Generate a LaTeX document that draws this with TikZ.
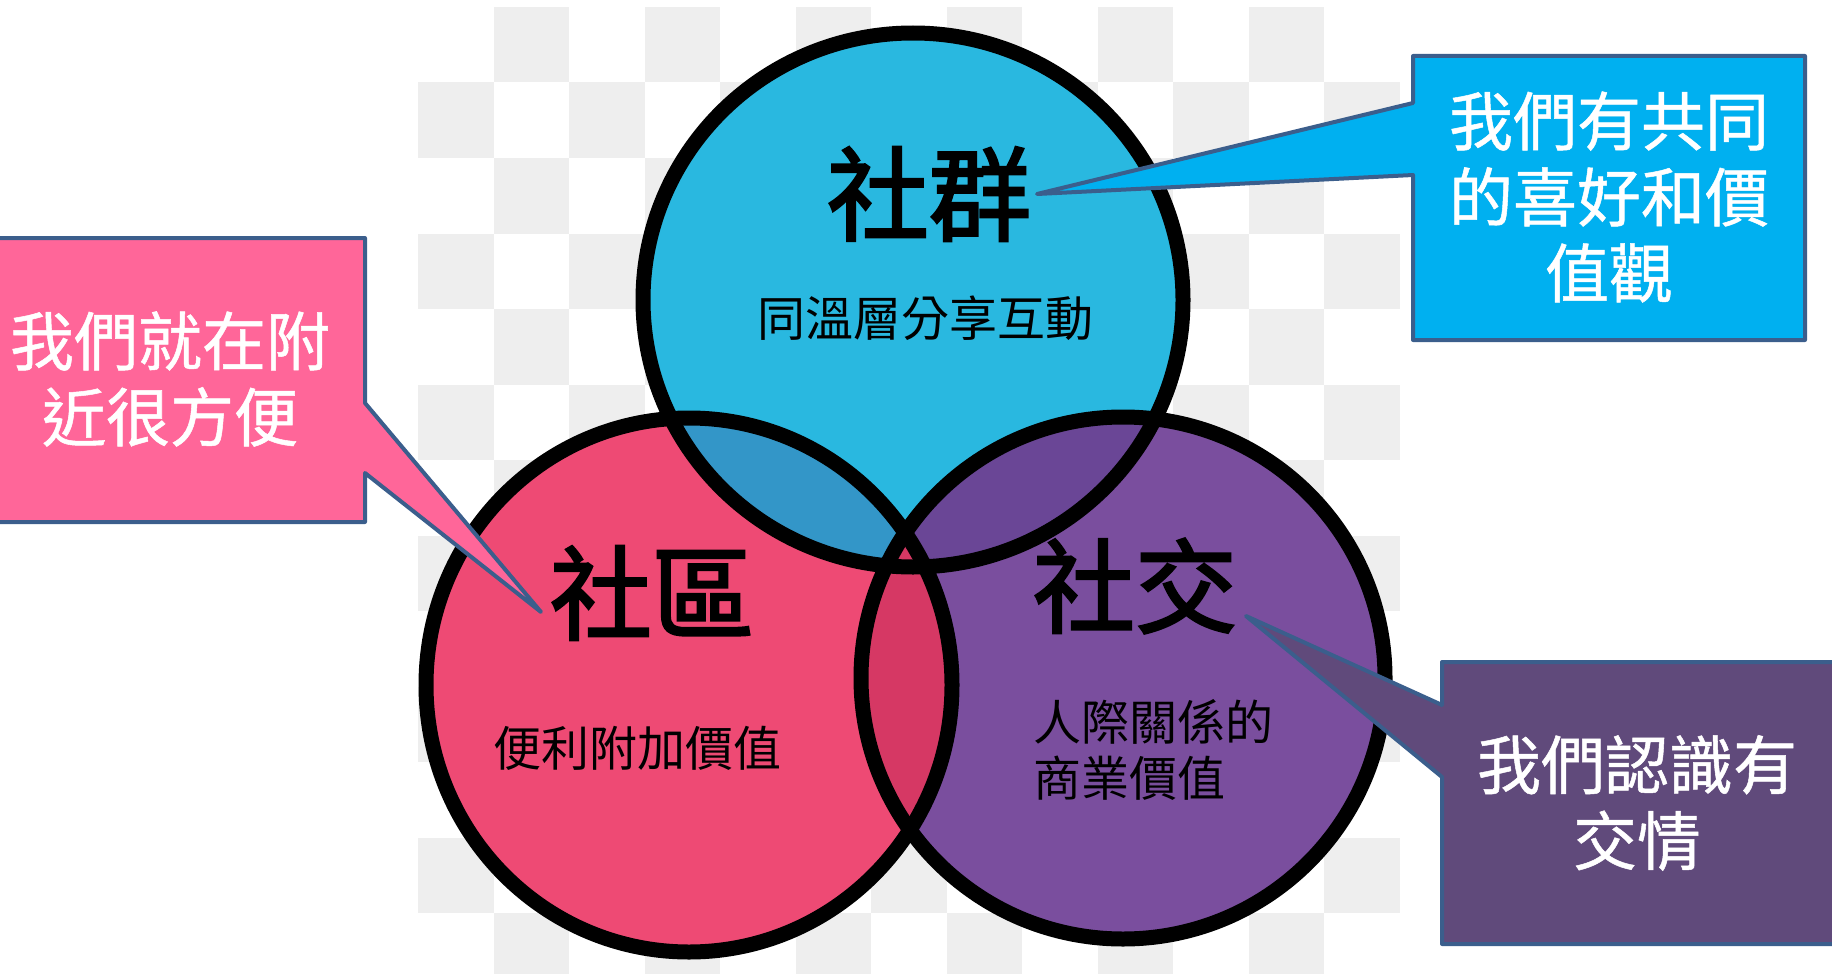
\documentclass[tikz,border=0pt]{standalone}
\usepackage{fontspec}
\newfontfamily\cjk{Noto Sans CJK TC}
\newfontfamily\cjkh{Noto Sans CJK TC}[FakeBold=2.5]
\newfontfamily\cjkm{Noto Sans CJK TC}[FakeBold=0.8]
\definecolor{chk}{HTML}{EEEEEE}
\definecolor{cblue}{HTML}{29B8E0}
\definecolor{cpink}{HTML}{EE4A74}
\definecolor{cpurple}{HTML}{7A4E9E}
\definecolor{bp}{HTML}{3396C8}
\definecolor{bu}{HTML}{6A4696}
\definecolor{pu}{HTML}{D63864}
\definecolor{kblue}{HTML}{00B0F0}
\definecolor{kpink}{HTML}{FF6699}
\definecolor{kpurple}{HTML}{604A7B}
\definecolor{kline}{HTML}{3B5E8C}
\tikzset{
  ring/.style={draw=black, line width=15pt},
  callout/.style={draw=kline, line width=4pt, line join=round},
  head/.style={font=\cjkh\fontsize{102}{102}\selectfont, inner sep=0pt, text=black},
  sub/.style={font=\cjk\fontsize{48}{56}\selectfont, inner sep=0pt, text=black},
  say/.style={font=\cjkm\fontsize{64}{76}\selectfont, inner sep=0pt, text=white, align=center},
}
\begin{document}
\begin{tikzpicture}[x=1pt,y=-1pt]
\useasboundingbox (0,0) rectangle (1832,974);
\clip (0,0) rectangle (1832,974);
% checkered background
\foreach \r in {0,...,12}{
  \foreach \c in {0,...,12}{
    \pgfmathtruncatemacro{\odd}{mod(\r+\c,2)}
    \ifnum\odd=1
      \fill[chk] ({418+75.5*\c},{7+75.5*\r}) rectangle ++(75.5,75.5);
    \fi
  }
}
% circle fills
\fill[cblue] (913,300) ellipse [x radius=270pt, y radius=267pt];
\fill[cpink] (689,685) ellipse [x radius=263pt, y radius=267pt];
\fill[cpurple] (1123,678) ellipse [x radius=262pt, y radius=261pt];
% overlaps
\begin{scope}
  \clip (913,300) ellipse [x radius=270pt, y radius=267pt];
  \fill[bp] (689,685) ellipse [x radius=263pt, y radius=267pt];
  \fill[bu] (1123,678) ellipse [x radius=262pt, y radius=261pt];
\end{scope}
\begin{scope}
  \clip (689,685) ellipse [x radius=263pt, y radius=267pt];
  \fill[pu] (1123,678) ellipse [x radius=262pt, y radius=261pt];
\end{scope}
% outlines
\draw[ring] (913,300) ellipse [x radius=270pt, y radius=267pt];
\draw[ring] (689,685) ellipse [x radius=263pt, y radius=267pt];
\draw[ring] (1123,678) ellipse [x radius=262pt, y radius=261pt];
% circle texts
\node[head] (sq) at (929,194) {社群};
\node[sub] (sqs) at (925,318) {同溫層分享互動};
\node[head] (sc) at (652,593) {社區};
\node[sub] (scs) at (637,748) {便利附加價值};
\node[head] (sj) at (1135,586) {社交};
\node[sub, align=left, anchor=west] (sjs) at (1033,750) {人際關係的\\商業價值};
% callout tips
\coordinate (bt) at (1037,194);
\coordinate (pt) at (541,612);
\coordinate (ut) at (1246,616);
% callouts
\draw[callout, fill=kblue] (1413,56) -- (1805,56) -- (1805,340) -- (1413,340) -- (1413,175) -- (bt) -- (1413,103) -- cycle;
\draw[callout, fill=kpink] (-10,238) -- (365,238) -- (365,403) -- (pt) -- (365,473) -- (365,522) -- (-10,522) -- cycle;
\draw[callout, fill=kpurple] (1442,662) -- (1850,662) -- (1850,944) -- (1442,944) -- (1442,777) -- (ut) -- (1442,705) -- cycle;
\node[say] (bs) at (1609,197) {我們有共同\\的喜好和價\\值觀};
\node[say] (ps) at (170,379) {我們就在附\\近很方便};
\node[say] (us) at (1637,803) {我們認識有\\交情};
\end{tikzpicture}
\end{document}
